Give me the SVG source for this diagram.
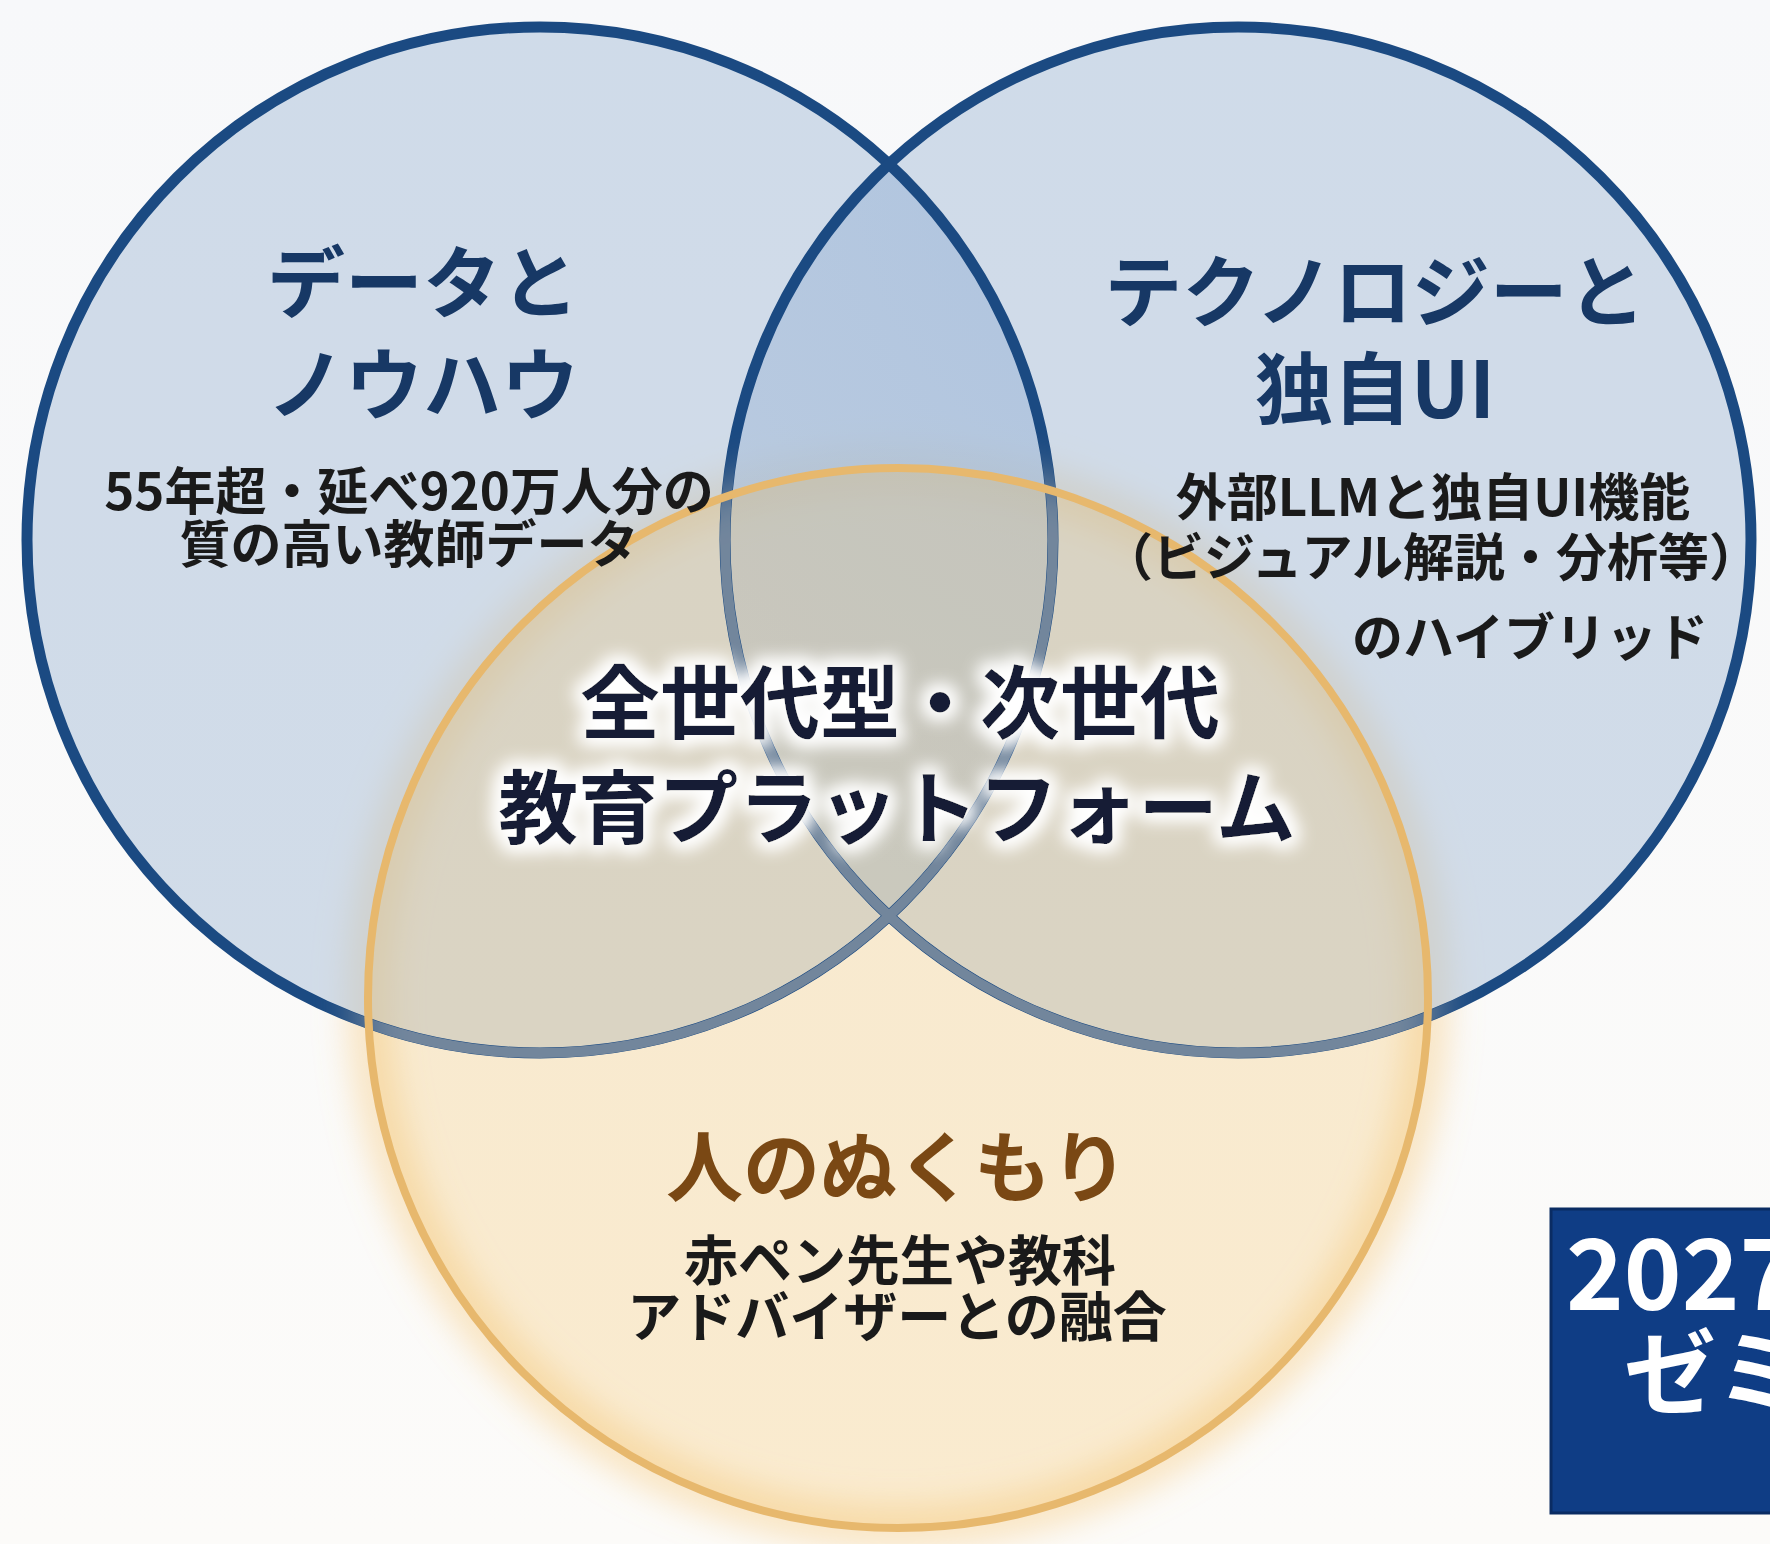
<svg xmlns="http://www.w3.org/2000/svg" width="1770" height="1544" viewBox="0 0 1770 1544">
  <defs>
    <style>
      text { font-family: "Noto Sans CJK JP", "Noto Sans", sans-serif; text-anchor: middle; }
      .title { font-size: 78px; font-weight: 700; fill: #173865; }
      .sub { font-size: 51px; font-weight: 700; fill: #1a1a1a; }
      .center { font-size: 80px; font-weight: 700; fill: #141f36; }
      .warm { font-size: 77px; font-weight: 700; fill: #7a4814; }
      .box-text { font-size: 98px; font-weight: 700; fill: #ffffff; text-anchor: start; }
      .blue-fill { fill: #a7bdd8; fill-opacity: 0.5; }
      .blue-stroke { fill: none; stroke: #1b4a82; stroke-width: 11; }
      .blue-stroke-soft { fill: none; stroke: #72869c; stroke-width: 10; }
    </style>
    <linearGradient id="bg" x1="0" y1="0" x2="0" y2="1">
      <stop offset="0" stop-color="#f7f8fa"/>
      <stop offset="1" stop-color="#fcfbf9"/>
    </linearGradient>
    <radialGradient id="lens" cx="0.5" cy="0.1" r="0.8">
      <stop offset="0" stop-color="#8fb0dc" stop-opacity="0.35"/>
      <stop offset="1" stop-color="#8fb0dc" stop-opacity="0"/>
    </radialGradient>
    <filter id="glowOrange" x="-20%" y="-20%" width="140%" height="140%">
      <feGaussianBlur stdDeviation="18"/>
    </filter>
    <filter id="soft" x="-20%" y="-20%" width="140%" height="140%">
      <feGaussianBlur stdDeviation="22"/>
    </filter>
    <filter id="textGlow" x="-10%" y="-30%" width="120%" height="160%">
      <feMorphology in="SourceAlpha" operator="dilate" radius="5" result="d"/>
      <feGaussianBlur in="d" stdDeviation="9" result="b"/>
      <feFlood flood-color="#ffffff" flood-opacity="0.95"/>
      <feComposite in2="b" operator="in" result="g"/>
      <feMerge>
        <feMergeNode in="g"/>
        <feMergeNode in="g"/>
        <feMergeNode in="SourceGraphic"/>
      </feMerge>
    </filter>
    <clipPath id="clipLeft">
      <circle cx="540" cy="540" r="513"/>
    </clipPath>
    <mask id="insideWarm" maskUnits="userSpaceOnUse" x="0" y="0" width="1770" height="1544">
      <circle cx="898" cy="998" r="540" fill="#ffffff" filter="url(#soft)"/>
    </mask>
  </defs>

  <rect x="0" y="0" width="1770" height="1544" fill="url(#bg)"/>

  <!-- warm glow behind bottom circle -->
  <circle cx="898" cy="998" r="530" fill="none" stroke="#f6c46e" stroke-width="34" stroke-opacity="0.5" filter="url(#glowOrange)"/>

  <g id="node-data">
    <circle class="blue-fill" cx="540" cy="540" r="513"/>
  </g>
  <g id="node-tech">
    <circle class="blue-fill" cx="1238" cy="540" r="513"/>
  </g>
  <!-- stronger blue in the upper overlap -->
  <circle cx="1238" cy="540" r="513" fill="url(#lens)" clip-path="url(#clipLeft)"/>
  <g id="node-warmth">
    <circle cx="898" cy="998" r="530" fill="#f2bd5a" fill-opacity="0.26"/>
  </g>

  <g id="outlines">
    <circle class="blue-stroke" cx="540" cy="540" r="513"/>
    <circle class="blue-stroke" cx="1238" cy="540" r="513"/>
    <g mask="url(#insideWarm)">
      <circle class="blue-stroke-soft" cx="540" cy="540" r="513"/>
      <circle class="blue-stroke-soft" cx="1238" cy="540" r="513"/>
    </g>
    <circle cx="898" cy="998" r="530" fill="none" stroke="#e7b86d" stroke-width="8"/>
  </g>

  <g id="label-data">
    <text class="title" x="423" y="312">データと</text>
    <text class="title" x="423" y="414">ノウハウ</text>
    <text class="sub" x="409" y="510">55年超・延べ920万人分の</text>
    <text class="sub" x="409" y="563">質の高い教師データ</text>
  </g>

  <g id="label-tech">
    <text class="title" x="1375" y="321">テクノロジーと</text>
    <text class="title" x="1375" y="418">独自UI</text>
    <text class="sub" x="1433" y="516">外部LLMと独自UI機能</text>
    <text class="sub" x="1431" y="576">（ビジュアル解説・分析等）</text>
    <text class="sub" x="1708" y="656" style="text-anchor:end">のハイブリッド</text>
  </g>

  <g id="label-center" filter="url(#textGlow)">
    <text class="center" x="900" y="732">全世代型・次世代</text>
    <text class="center" x="897" y="837">教育プラットフォーム</text>
  </g>

  <g id="label-warmth">
    <text class="warm" x="897" y="1196">人のぬくもり</text>
    <text class="sub" x="900" y="1281" style="font-size:54px">赤ペン先生や教科</text>
    <text class="sub" x="897" y="1337" style="font-size:54px">アドバイザーとの融合</text>
  </g>

  <g id="node-badge">
    <rect x="1551" y="1209" width="240" height="304" fill="#0f3d85" stroke="#0a2c63" stroke-width="3"/>
    <text class="box-text" x="1566" y="1310">2027</text>
    <text class="box-text" x="1624" y="1407" style="font-size:92px">ゼミ</text>
  </g>
</svg>
